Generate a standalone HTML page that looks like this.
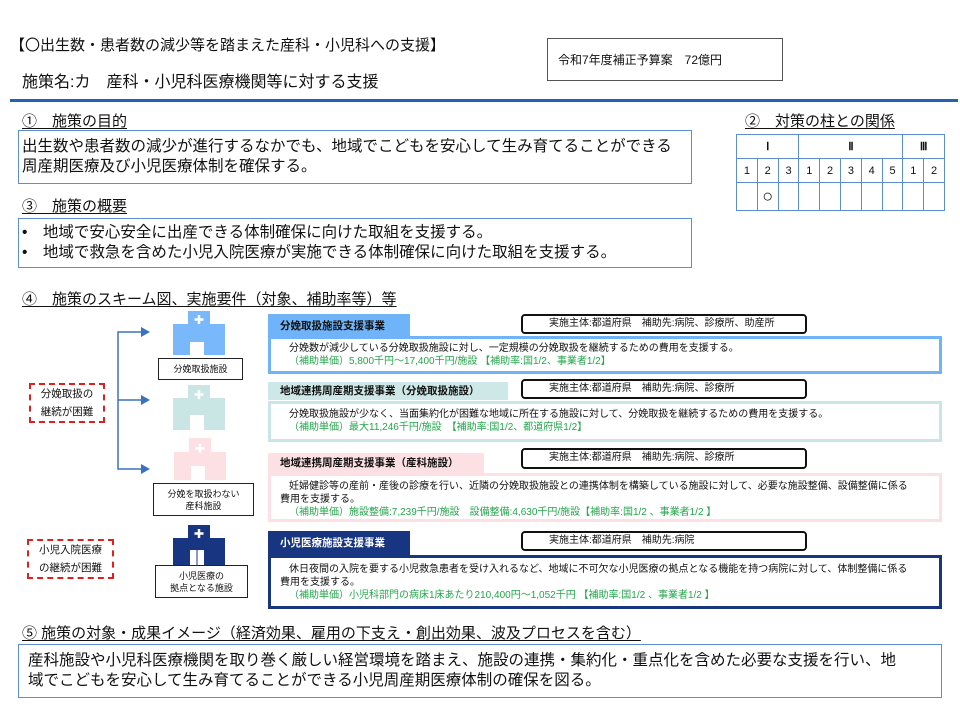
<!DOCTYPE html>
<html><head><meta charset="utf-8"><style>
*{margin:0;padding:0;box-sizing:border-box}
body{width:960px;height:720px;background:#fff;position:relative;overflow:hidden;font-family:"Liberation Sans","Noto Sans CJK JP",sans-serif;color:#111}
.a{position:absolute;white-space:nowrap}
.h{font-size:15px;text-decoration:underline;text-underline-offset:2px}
.bx{position:absolute;border:1.5px solid #5b8fd0}
.t16{font-size:15.5px;line-height:20px}
.tab{position:absolute;font-size:10.5px;font-weight:bold;padding-left:12px;line-height:20px}
.imp{position:absolute;border:2px solid #111;border-radius:4px;font-size:10px;padding-left:26px;line-height:16px;background:#fff}
.sb{position:absolute;background:#fff;font-size:10px;line-height:13px;padding:4px 0 0 18px}
.g{color:#22a64a}
.lab{position:absolute;border:1.5px solid #222;font-size:9px;text-align:center;line-height:12px;display:flex;align-items:center;justify-content:center}
.red{position:absolute;border:2px dashed #e02020;font-size:10.5px;text-align:center;line-height:18px;display:flex;align-items:center;justify-content:center}
table{border-collapse:collapse;table-layout:fixed}
td{border:1.5px solid #5b8fd0;text-align:center;font-size:11px;height:24px;padding:0}
.rn{font-family:"Liberation Serif",serif;font-weight:bold}
</style></head><body>
<div class="a" style="left:10px;top:34px;font-size:15px">【〇出生数・患者数の減少等を踏まえた産科・小児科への支援】</div>
<div class="a" style="left:547px;top:38px;width:236px;height:43px;border:1px solid #555;font-size:12px;padding:12px 0 0 10px">令和7年度補正予算案　72億円</div>
<div class="a" style="left:22px;top:68px;font-size:16px">施策名:カ　産科・小児科医療機関等に対する支援</div>
<div class="a" style="left:10px;top:99px;width:948px;height:3px;background:#2063b0"></div>

<div class="a h" style="left:22px;top:110px">①　施策の目的</div>
<div class="bx" style="left:18px;top:130px;width:674px;height:54px"></div>
<div class="a t16" style="left:22px;top:137px">出生数や患者数の減少が進行するなかでも、地域でこどもを安心して生み育てることができる<br>周産期医療及び小児医療体制を確保する。</div>

<div class="a h" style="left:22px;top:195px">③　施策の概要</div>
<div class="bx" style="left:18px;top:218px;width:674px;height:50px"></div>
<div class="a t16" style="left:22px;top:223px">•　地域で安心安全に出産できる体制確保に向けた取組を支援する。<br>•　地域で救急を含めた小児入院医療が実施できる体制確保に向けた取組を支援する。</div>

<div class="a h" style="left:745px;top:110px">②　対策の柱との関係</div>
<table class="a" style="left:736px;top:134px;width:208px">
<colgroup><col span="10" style="width:20.8px"></colgroup>
<tr><td colspan="3" class="rn">Ⅰ</td><td colspan="5" class="rn">Ⅱ</td><td colspan="2" class="rn">Ⅲ</td></tr>
<tr><td>1</td><td>2</td><td>3</td><td>1</td><td>2</td><td>3</td><td>4</td><td>5</td><td>1</td><td>2</td></tr>
<tr><td style="height:28px"></td><td style="font-size:18px">○</td><td></td><td></td><td></td><td></td><td></td><td></td><td></td><td></td></tr>
</table>

<div class="a h" style="left:22px;top:288px">④　施策のスキーム図、実施要件（対象、補助率等）等</div>

<svg class="a" style="left:0;top:300px" width="270" height="310">
<g stroke="#3b72c0" stroke-width="1.5" fill="none"><path d="M143 32H118V169H143M118 100H143"/></g>
<g fill="#3b72c0"><path d="M141 27l9 5-9 5z"/><path d="M141 95l9 5-9 5z"/><path d="M141 164l9 5-9 5z"/></g>
<g fill="#78b8fb"><path d="M173 24h15v-13h22v13h15v31h-52z"/></g><rect x="190" y="42" width="14" height="13" fill="#fff"/><path d="M199 15v9M194.5 19.5h9" stroke="#fff" stroke-width="2.5"/>
<g fill="#c9e6e4"><path d="M173 98h15v-13h22v13h15v32h-52z"/></g><rect x="190" y="115" width="14" height="15" fill="#fff"/><path d="M199 90v9M194.5 94.5h9" stroke="#fff" stroke-width="2.5"/>
<g fill="#fde0e4"><path d="M174 152h15v-14h22v14h15v28h-52z"/></g><rect x="191" y="166" width="14" height="14" fill="#fff"/><path d="M200 144v9M195.5 148.5h9" stroke="#fff" stroke-width="2.5"/>
<g fill="#173581"><path d="M173 238h15v-13h22v13h15v27h-52z"/></g><rect x="190" y="250" width="14" height="15" fill="#fff"/><path d="M197 250v15" stroke="#173581" stroke-width="1"/><path d="M199 229v9M194.5 233.5h9" stroke="#fff" stroke-width="2.5"/>
</svg>

<div class="lab" style="left:158px;top:358px;width:85px;height:22px">分娩取扱施設</div>
<div class="lab" style="left:153px;top:483px;width:101px;height:33px">分娩を取扱わない<br>産科施設</div>
<div class="lab" style="left:155px;top:565px;width:93px;height:33px">小児医療の<br>拠点となる施設</div>
<div class="red" style="left:29px;top:383px;width:76px;height:40px">分娩取扱の<br>継続が困難</div>
<div class="red" style="left:27px;top:539px;width:87px;height:40px">小児入院医療<br>の継続が困難</div>

<div class="tab" style="left:268px;top:314px;width:142px;height:24px;background:#6fb3f8;line-height:24px">分娩取扱施設支援事業</div>
<div class="sb" style="left:268px;top:336px;width:674px;height:38px;border:3px solid #6fb3f8;padding-top:3px">分娩数が減少している分娩取扱施設に対し、一定規模の分娩取扱を継続するための費用を支援する。<br><span class="g">（補助単価）5,800千円～17,400千円/施設 【補助率:国1/2、事業者1/2】</span></div>
<div class="imp" style="left:521px;top:314px;width:286px;height:20px">実施主体:都道府県　補助先:病院、診療所、助産所</div>

<div class="tab" style="left:268px;top:382px;width:240px;height:18px;background:#cde8e6;line-height:18px">地域連携周産期支援事業（分娩取扱施設）</div>
<div class="sb" style="left:268px;top:401px;width:674px;height:41px;border:3px solid #c9e6e4">分娩取扱施設が少なく、当面集約化が困難な地域に所在する施設に対して、分娩取扱を継続するための費用を支援する。<br><span class="g">（補助単価）最大11,246千円/施設　【補助率:国1/2、都道府県1/2】</span></div>
<div class="imp" style="left:521px;top:379px;width:286px;height:20px">実施主体:都道府県　補助先:病院、診療所</div>

<div class="tab" style="left:268px;top:453px;width:216px;height:20px;background:#fde0e4">地域連携周産期支援事業（産科施設）</div>
<div class="sb" style="left:268px;top:473px;width:674px;height:49px;border:3px solid #fde0e4">妊婦健診等の産前・産後の診療を行い、近隣の分娩取扱施設との連携体制を構築している施設に対して、必要な施設整備、設備整備に係る<br><span style="margin-left:-9px">費用を支援する。</span><br><span class="g">（補助単価）施設整備:7,239千円/施設　設備整備:4,630千円/施設【補助率:国1/2 、事業者1/2 】</span></div>
<div class="imp" style="left:521px;top:448px;width:286px;height:21px">実施主体:都道府県　補助先:病院、診療所</div>

<div class="tab" style="left:268px;top:531px;width:142px;height:25px;background:#173581;color:#fff;line-height:25px">小児医療施設支援事業</div>
<div class="sb" style="left:268px;top:555px;width:674px;height:54px;border:3px solid #173581;padding-top:5px">休日夜間の入院を要する小児救急患者を受け入れるなど、地域に不可欠な小児医療の拠点となる機能を持つ病院に対して、体制整備に係る<br><span style="margin-left:-9px">費用を支援する。</span><br><span class="g">（補助単価）小児科部門の病床1床あたり210,400円～1,052千円 【補助率:国1/2 、事業者1/2 】</span></div>
<div class="imp" style="left:521px;top:531px;width:286px;height:20px">実施主体:都道府県　補助先:病院</div>

<div class="a h" style="left:22px;top:622px">⑤ 施策の対象・成果イメージ（経済効果、雇用の下支え・創出効果、波及プロセスを含む）</div>
<div class="bx" style="left:18px;top:644px;width:924px;height:54px"></div>
<div class="a t16" style="left:28px;top:651px">産科施設や小児科医療機関を取り巻く厳しい経営環境を踏まえ、施設の連携・集約化・重点化を含めた必要な支援を行い、地<br>域でこどもを安心して生み育てることができる小児周産期医療体制の確保を図る。</div>
</body></html>
